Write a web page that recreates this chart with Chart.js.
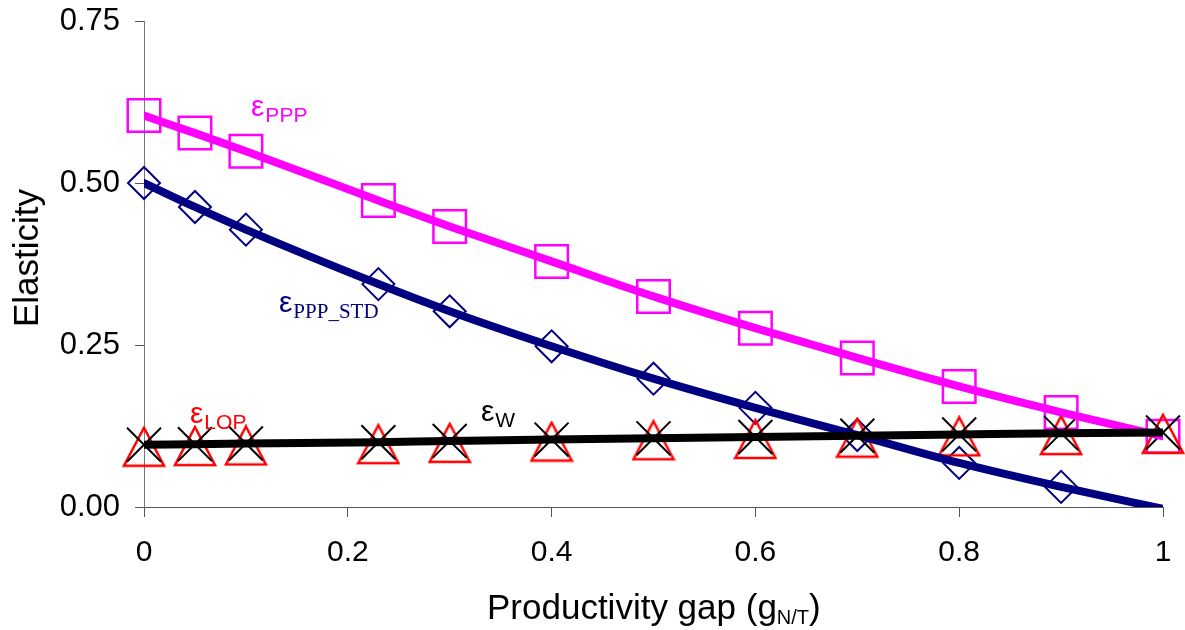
<!DOCTYPE html>
<html>
<head>
<meta charset="utf-8">
<script src="https://cdn.jsdelivr.net/npm/chart.js@4.4.1/dist/chart.umd.min.js"></script>
<style>
  html, body { margin: 0; padding: 0; background: #fff; }
  #wrap { width: 1185px; height: 630px; }
</style>
</head>
<body>
<div id="wrap"><canvas id="chart" width="1185" height="630"></canvas></div>
<script>
// Elasticity against the productivity gap

const gaps = [0, 0.05, 0.1, 0.23, 0.3, 0.4, 0.5, 0.6, 0.7, 0.8, 0.9, 1];
const ePPP = [0.604, 0.577, 0.549, 0.473, 0.433, 0.379, 0.325, 0.276, 0.230, 0.186, 0.146, 0.109];
const ePPPStd = [0.500, 0.463, 0.428, 0.344, 0.302, 0.248, 0.198, 0.153, 0.111, 0.068, 0.031, -0.003];
const eW = [0.096, 0.097, 0.098, 0.100, 0.102, 0.104, 0.106, 0.108, 0.110, 0.112, 0.114, 0.115];
const eLOP = [0.093, 0.094, 0.095, 0.097, 0.099, 0.101, 0.103, 0.105, 0.107, 0.109, 0.111, 0.113];

const xTicks = [0, 0.2, 0.4, 0.6, 0.8, 1];
const yTicks = [0, 0.25, 0.5, 0.75];

const FONT = "'Liberation Sans', Arial, sans-serif";
const SERIF = "'Liberation Serif', 'Times New Roman', serif";

const pts = arr => gaps.map((x, i) => ({ x: x, y: arr[i] }));

// hollow triangle, box centred on the point
function makeTriangle() {
  const c = document.createElement('canvas');
  c.width = 44;
  c.height = 42;
  const g = c.getContext('2d');
  g.strokeStyle = '#ff0000';
  g.lineWidth = 2.5;
  g.beginPath();
  g.moveTo(22, 2);
  g.lineTo(42, 40);
  g.lineTo(2, 40);
  g.closePath();
  g.stroke();
  return c;
}
const triangle = makeTriangle();

function lineSet(arr, color, width) {
  return {
    data: pts(arr),
    showLine: true,
    borderColor: color,
    borderWidth: width,
    borderCapStyle: 'round',
    cubicInterpolationMode: 'monotone',
    pointRadius: 0,
    pointHoverRadius: 0,
    fill: false,
    order: 1
  };
}

function markerSet(arr, style, radius, color, bw) {
  return {
    data: pts(arr),
    showLine: false,
    pointStyle: style,
    pointRadius: radius,
    pointBorderColor: color,
    pointBorderWidth: bw,
    pointBackgroundColor: 'rgba(0,0,0,0)',
    clip: false,
    order: 2
  };
}

// series labels and axis titles with subscripts
const textPlugin = {
  id: 'texts',
  afterDraw(chart) {
    const ctx = chart.ctx;
    ctx.save();
    ctx.textBaseline = 'alphabetic';
    ctx.textAlign = 'left';

    function label(x, y, sub, color, subFont) {
      ctx.fillStyle = color;
      ctx.font = '30px ' + FONT;
      ctx.fillText('\u03b5', x, y);
      const w = ctx.measureText('\u03b5').width;
      ctx.font = subFont;
      ctx.fillText(sub, x + w + 1, y + 6);
    }
    label(251, 116, 'PPP', '#ff00ff', '21px ' + FONT);
    label(279, 312, 'PPP_STD', '#000080', '21px ' + SERIF);
    label(190, 423, 'LOP', '#ff0000', '21px ' + FONT);
    label(481, 421, 'W', '#000000', '21px ' + FONT);

    // x title
    ctx.fillStyle = '#000';
    ctx.font = '35px ' + FONT;
    let x = 487;
    const base = 619;
    const part1 = 'Productivity gap (g';
    ctx.fillText(part1, x, base);
    x += ctx.measureText(part1).width;
    ctx.font = '20px ' + FONT;
    ctx.fillText('N/T', x, base + 5);
    x += ctx.measureText('N/T').width;
    ctx.font = '35px ' + FONT;
    ctx.fillText(')', x, base);

    // y title
    ctx.translate(38, 258);
    ctx.rotate(-Math.PI / 2);
    ctx.textAlign = 'center';
    ctx.fillText('Elasticity', 0, 0);
    ctx.restore();
  }
};

new Chart(document.getElementById('chart'), {
  type: 'scatter',
  data: {
    datasets: [
      lineSet(eW, '#000000', 8),
      lineSet(ePPP, '#ff00ff', 8),
      lineSet(ePPPStd, '#000080', 8),
      lineSet(eLOP, '#ff0000', 2),
      markerSet(eW, 'crossRot', 24, '#000000', 2),
      markerSet(eLOP, triangle, 20, '#ff0000', 2),
      Object.assign(markerSet(ePPPStd, 'rectRot', 16, '#000080', 2), {
        pointRadius: c => (c.dataIndex === gaps.length - 1 ? 0 : 16)
      }),
      markerSet(ePPP, 'rect', 23, '#ff00ff', 2.5)
    ]
  },
  options: {
    responsive: false,
    animation: false,
    events: [],
    layout: { autoPadding: false, padding: { top: 21, right: 22, left: 0, bottom: 0 } },
    plugins: {
      legend: { display: false },
      tooltip: { enabled: false }
    },
    scales: {
      x: {
        type: 'linear',
        min: 0,
        max: 1,
        afterBuildTicks: s => { s.ticks = xTicks.map(v => ({ value: v })); },
        afterFit: s => {
          s.height = 123;
          s.paddingLeft = 0;
          s.paddingRight = 0;
        },
        border: { color: '#555', width: 1 },
        grid: { drawOnChartArea: false, drawTicks: true, tickLength: 10, tickColor: '#555' },
        ticks: {
          color: '#000',
          font: { family: FONT, size: 30 },
          padding: 18,
          maxRotation: 0,
          callback: v => (v === 0 || v === 1 ? String(v) : v.toFixed(1))
        }
      },
      y: {
        type: 'linear',
        min: 0,
        max: 0.75,
        afterBuildTicks: s => { s.ticks = yTicks.map(v => ({ value: v })); },
        afterFit: s => {
          s.width = 144;
          s.paddingTop = 0;
          s.paddingBottom = 0;
        },
        border: { color: '#777', width: 1 },
        grid: { drawOnChartArea: false, drawTicks: true, tickLength: 9, tickColor: '#555' },
        ticks: {
          color: '#000',
          font: { family: FONT, size: 31 },
          padding: 15,
          callback: v => v.toFixed(2)
        }
      }
    }
  },
  plugins: [textPlugin]
});
</script>
</body>
</html>
